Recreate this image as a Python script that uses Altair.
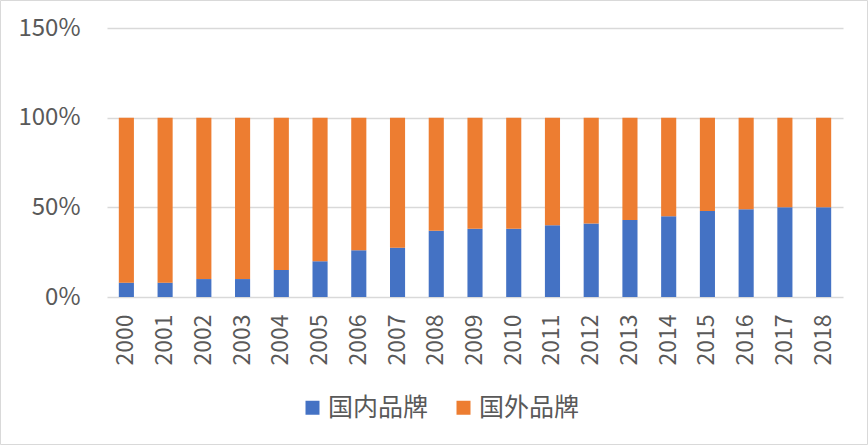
import altair as alt
import pandas as pd

years = [str(y) for y in range(2000, 2019)]
domestic = [8, 8, 10, 10, 15, 20, 26, 27.5, 37, 38, 38, 40, 41, 43, 45, 48, 49, 50, 50]
foreign = [100 - d for d in domestic]
series = ["国内品牌", "国外品牌"]
colors = ["#4472C4", "#ED7D31"]

rows = []
for y, d, f in zip(years, domestic, foreign):
    rows.append({"year": y, "brand": series[0], "share": d / 100, "ord": 0})
    rows.append({"year": y, "brand": series[1], "share": f / 100, "ord": 1})
df = pd.DataFrame(rows)

FONT = "Noto Sans CJK SC"
TXT = "#595959"

bars = alt.Chart(df).mark_bar().encode(
    x=alt.X("year:N", sort=years, title=None,
            scale=alt.Scale(paddingInner=0.61, paddingOuter=0.305),
            axis=alt.Axis(labelAngle=-90, labelFontSize=23, labelColor=TXT, labelFont=FONT,
                          ticks=False, domain=False, labelPadding=17, grid=False)),
    y=alt.Y("share:Q", stack="zero", title=None,
            scale=alt.Scale(domain=[0, 1.5], nice=False),
            axis=alt.Axis(values=[0, 0.5, 1, 1.5], format=".0%", labelFontSize=24,
                          labelColor=TXT, labelFont=FONT, ticks=False, tickSize=0, domain=False,
                          labelPadding=27, gridColor="#d9d9d9", gridWidth=1.3)),
    color=alt.Color("brand:N", sort=series,
                    scale=alt.Scale(domain=series, range=colors),
                    legend=alt.Legend(title=None, orient="none", direction="horizontal",
                                      legendX=193, legendY=367, symbolType="square",
                                      symbolSize=196, symbolStrokeWidth=0,
                                      labelFontSize=25, labelFont=FONT, labelColor=TXT,
                                      labelOffset=3, columnPadding=22)),
    order=alt.Order("ord:Q"),
)

border = alt.Chart(pd.DataFrame({"k": [0]})).mark_rect(
    fill=None, stroke="#d9d9d9", strokeWidth=1
).encode(
    x=alt.value(-106.5), x2=alt.value(760.5), y=alt.value(-27.5), y2=alt.value(416.5)
)

chart = alt.layer(bars, border).properties(
    width=736, height=269,
    autosize=alt.AutoSizeParams(type="none"),
    padding={"left": 107, "top": 28, "right": 25, "bottom": 148},
    background="white",
).configure_view(stroke=None)

chart.save("out.html", embed_options={"renderer": "svg", "actions": False})
